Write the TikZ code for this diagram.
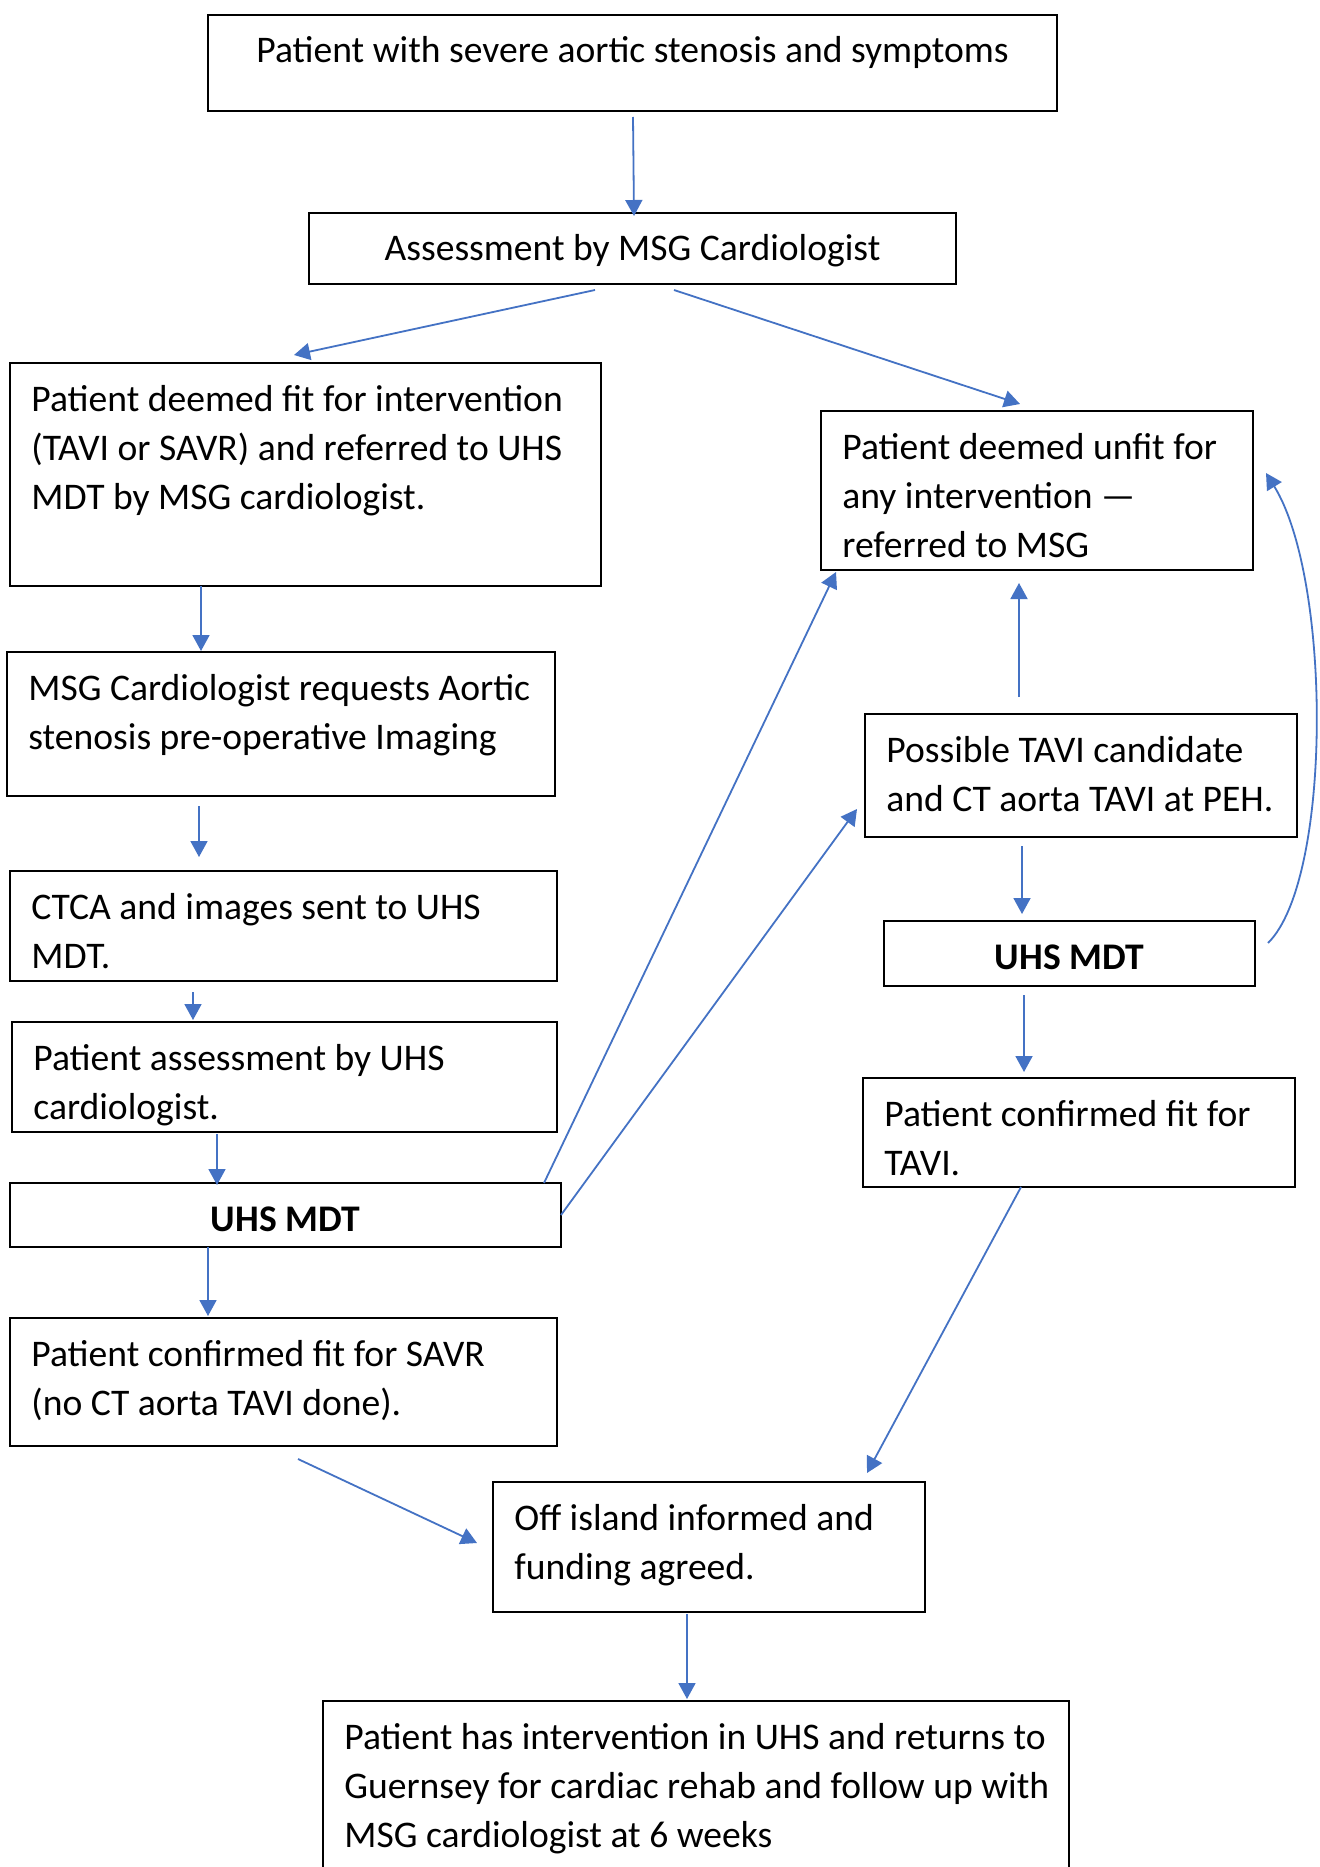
\documentclass[tikz,border=0pt]{standalone}
\usepackage{fontspec}
\setmainfont{Carlito}
\usetikzlibrary{arrows.meta,calc}
\definecolor{conblue}{HTML}{4472C4}
\tikzset{
 box/.style={draw=black, line width=1pt, inner sep=0pt, outer sep=0pt, anchor=north west, font=\fontsize{18.8pt}{24.7pt}\selectfont},
 conn/.style={draw=conblue, line width=0.9pt, -{Triangle[length=8pt,width=8.5pt]}}
}
\newcommand\lbox[6]{%
 \pgfmathsetmacro\bw{(#4-#2)/2-10.7}%
 \pgfmathsetmacro\bh{(#5-#3)/2}%
 \node[box] (#1) at (#2,#3) {\hspace*{10.7pt}\parbox[c][\bh pt][t]{\bw pt}{\raggedright\rule{0pt}{24pt}#6}};}
\newcommand\cbox[6]{%
 \pgfmathsetmacro\bw{(#4-#2)/2}%
 \pgfmathsetmacro\bh{(#5-#3)/2}%
 \node[box] (#1) at (#2,#3) {\parbox[c][\bh pt][t]{\bw pt}{\centering\rule{0pt}{24pt}#6}};}
\begin{document}
\begin{tikzpicture}[x=0.5pt,y=-0.5pt]
\clip (0,0) rectangle (1320,1867);
\fill[white] (0,0) rectangle (1320,1867);
\cbox{B1}{208}{15}{1057}{111}{Patient with severe aortic stenosis and symptoms}
\cbox{B2}{309}{213}{956}{284}{Assessment by MSG Cardiologist}
\lbox{B3}{10}{363}{601}{586}{Patient deemed fit for intervention\\(TAVI or SAVR) and referred to UHS\\MDT by MSG cardiologist.}
\lbox{B4}{821}{411}{1253}{570}{Patient deemed unfit for\\any intervention —\\referred to MSG}
\lbox{B5}{7}{652}{555}{796}{MSG Cardiologist requests Aortic\\stenosis pre-operative Imaging}
\lbox{B6}{865}{714}{1297}{837}{Possible TAVI candidate\\and CT aorta TAVI at PEH.}
\lbox{B7}{10}{871}{557}{981}{CTCA and images sent to UHS\\MDT.}
\cbox{B8}{884}{921}{1255}{986}{\textbf{UHS MDT}}
\lbox{B9}{12}{1022}{557}{1132}{Patient assessment by UHS\\cardiologist.}
\lbox{B10}{863}{1078}{1295}{1187}{Patient confirmed fit for\\TAVI.}
\cbox{B11}{10}{1183}{561}{1247}{\textbf{UHS MDT}}
\lbox{B12}{10}{1318}{557}{1446}{Patient confirmed fit for SAVR\\(no CT aorta TAVI done).}
\lbox{B13}{493}{1482}{925}{1612}{Off island informed and\\funding agreed.}
\lbox{B14}{323}{1701}{1069}{1900}{Patient has intervention in UHS and returns to\\Guernsey for cardiac rehab and follow up with\\MSG cardiologist at 6 weeks}
% connectors
\draw[conn] ($(B1.south west)+(425,6)$) -- ($(B2.north west)+(325,3)$);
\draw[conn] ($(B2.south west)+(286,6)$) -- ($(B3.north west)+(284,-8)$);
\draw[conn] ($(B2.south west)+(365,6)$) -- ($(B4.north west)+(199,-7)$);
\draw[conn] ($(B3.south west)+(191,0)$) -- ($(B5.north west)+(194,-1)$);
\draw[conn] ($(B5.south west)+(192,10)$) -- ($(B7.north west)+(189,-14)$);
\draw[conn] ($(B7.south west)+(183,11)$) -- ($(B9.north west)+(181,-2)$);
\draw[conn] ($(B9.south west)+(205,2)$) -- ($(B11.north west)+(207,2)$);
\draw[conn] ($(B11.north west)+(534,0)$) -- ($(B4.south west)+(15,2)$);
\draw[conn] (B11.east) -- ($(B6.south west)+(-8,-28)$);
\draw[conn] ($(B11.south west)+(198,0)$) -- ($(B12.north west)+(198,-2)$);
\draw[conn] ($(B6.north west)+(154,-17)$) -- ($(B4.south west)+(198,13)$);
\draw[conn] ($(B6.south west)+(157,9)$) -- ($(B8.north west)+(138,-7)$);
\draw[conn] ($(B8.north east)+(13,22)$) .. controls (1332,880) and (1332,580) .. ($(B4.north east)+(13,62)$);
\draw[conn] ($(B8.south west)+(140,9)$) -- ($(B10.north west)+(161,-6)$);
\draw[conn] ($(B10.south west)+(158,0)$) -- ($(B13.north west)+(374,-9)$);
\draw[conn] ($(B12.south west)+(288,13)$) -- ($(B13.north west)+(-16,61)$);
\draw[conn] ($(B13.south west)+(194,2)$) -- ($(B14.north west)+(364,-2)$);
\end{tikzpicture}
\end{document}
